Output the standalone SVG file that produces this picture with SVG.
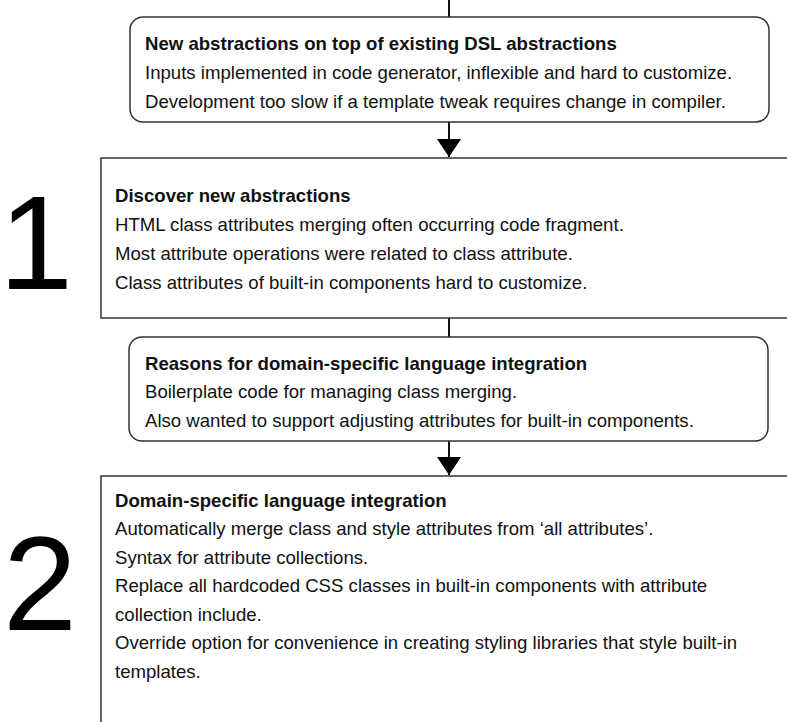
<svg xmlns="http://www.w3.org/2000/svg" width="787" height="722" viewBox="0 0 787 722">
<style>
.box{fill:#fff;stroke:#333;stroke-width:1.5}
.t{font-family:"Liberation Sans",Arial,Helvetica,sans-serif;font-size:18.6px;fill:#111}
.b{font-weight:bold}
.num{font-family:"Liberation Sans",Arial,Helvetica,sans-serif;font-size:133px;fill:#000}
.ln{stroke:#111;stroke-width:2;fill:none}
</style>
<defs>
<marker id="ah" viewBox="0 0 18 24" refX="18" refY="12" markerWidth="18" markerHeight="24" markerUnits="userSpaceOnUse" orient="auto">
<path d="M0,0 L18,12 L0,24 Z" fill="#000"/>
</marker>
</defs>
<rect width="787" height="722" fill="#fff"/>
<g id="connectors">
<line class="ln" x1="449" y1="0" x2="449" y2="17"/>
<line class="ln" x1="449" y1="122" x2="449" y2="157" marker-end="url(#ah)"/>
<line class="ln" x1="449" y1="318" x2="449" y2="337"/>
<line class="ln" x1="449" y1="441" x2="449" y2="475" marker-end="url(#ah)"/>
</g>
<g id="n-new-abstractions">
<rect class="box" x="130" y="17" width="639" height="105" rx="13"/>
<text class="t b" x="145" y="49.5">New abstractions on top of existing DSL abstractions</text>
<text class="t" x="145" y="78.5">Inputs implemented in code generator, inflexible and hard to customize.</text>
<text class="t" x="145" y="107.5">Development too slow if a template tweak requires change in compiler.</text>
</g>
<g id="n-stage1">
<rect class="box" x="101" y="158" width="700" height="160"/>
<text class="num" x="-1" y="289">1</text>
<text class="t b" x="115" y="202">Discover new abstractions</text>
<text class="t" x="115" y="231">HTML class attributes merging often occurring code fragment.</text>
<text class="t" x="115" y="260">Most attribute operations were related to class attribute.</text>
<text class="t" x="115" y="289">Class attributes of built-in components hard to customize.</text>
</g>
<g id="n-reasons">
<rect class="box" x="129" y="337" width="639" height="104" rx="13"/>
<text class="t b" x="145" y="369.5">Reasons for domain-specific language integration</text>
<text class="t" x="145" y="398">Boilerplate code for managing class merging.</text>
<text class="t" x="145" y="426.5">Also wanted to support adjusting attributes for built-in components.</text>
</g>
<g id="n-stage2">
<rect class="box" x="101" y="476" width="700" height="260"/>
<text class="num" x="3" y="630">2</text>
<text class="t b" x="115" y="506.5">Domain-specific language integration</text>
<text class="t" x="115" y="535">Automatically merge class and style attributes from ‘all attributes’.</text>
<text class="t" x="115" y="563.5">Syntax for attribute collections.</text>
<text class="t" x="115" y="592">Replace all hardcoded CSS classes in built-in components with attribute</text>
<text class="t" x="115" y="620.5">collection include.</text>
<text class="t" x="115" y="649">Override option for convenience in creating styling libraries that style built-in</text>
<text class="t" x="115" y="677.5">templates.</text>
</g>
</svg>
